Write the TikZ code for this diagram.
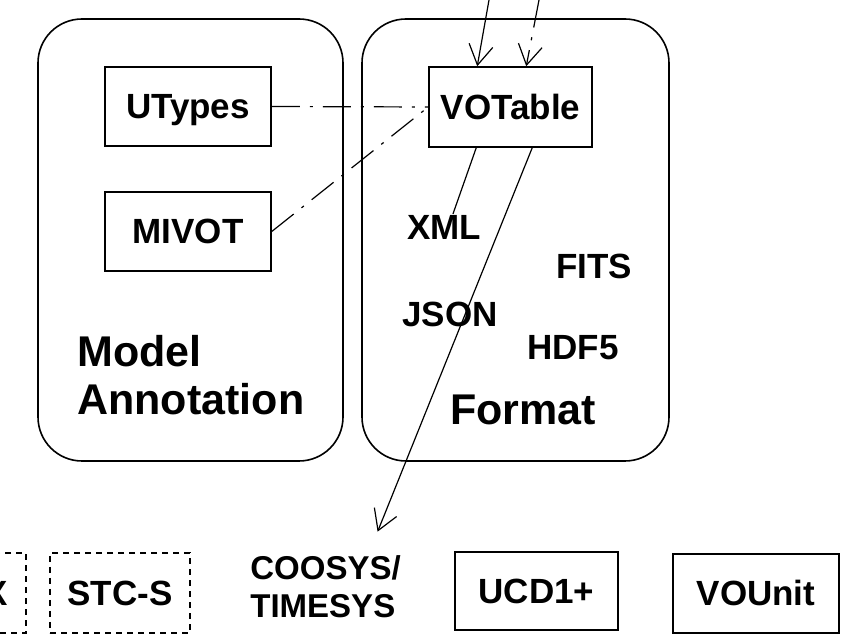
\documentclass[tikz,border=0pt]{standalone}
\usepackage{fontspec}
\setmainfont{Liberation Sans}
\usetikzlibrary{arrows.meta}
\begin{document}
\begin{tikzpicture}[x=0.5pt,y=-0.5pt,
  font=\bfseries\fontsize{17.5}{20}\selectfont,
  box/.style={draw,line width=0.75pt,minimum width=83pt,minimum height=39.5pt,inner sep=0pt,text height=12.5pt,text depth=0pt},
  dbox/.style={box,dash pattern=on 3pt off 2.5pt},
  dashdot/.style={line width=0.6pt,dash pattern=on 14pt off 5pt on 1.5pt off 5pt},
  barb/.style={-{Straight Barb[length=10pt,width=12pt]},line width=0.6pt},
  panel/.style={line width=0.8pt,rounded corners=22pt}]
  \useasboundingbox (0,0) rectangle (847,635);
  \draw[panel] (38,19) rectangle (343,461);
  \draw[panel] (362,19) rectangle (669,461);
  \node[box] (UTypes) at (188,106.5) {UTypes};
  \node[box] (MIVOT) at (188,231.5) {MIVOT};
  \node[box,minimum width=81.5pt,minimum height=40pt] (VOTable) at (510.5,107) {VOTable};
  \node[anchor=base] (XML) at (444,240) {XML};
  \node[anchor=base] (FITS) at (594,279) {FITS};
  \node[anchor=base] (JSON) at (450,327) {JSON};
  \node[anchor=base] (HDF5) at (573,360) {HDF5};
  \node[anchor=base west,align=left,inner sep=0pt,font=\bfseries\fontsize{21.5}{24}\selectfont] (annot) at (77,415) {Model\\Annotation};
  \node[anchor=base,font=\bfseries\fontsize{21.5}{24}\selectfont] (format) at (523,425) {Format};
  \node[dbox,minimum width=29.5pt,minimum height=40pt] (X) at (-3.5,593) {X};
  \node[dbox,minimum width=70pt,minimum height=40pt] (STCS) at (120,593) {STC-S};
  \node[anchor=base west,align=left,inner sep=0pt,font=\bfseries\fontsize{16.5}{19}\selectfont] (COOSYS) at (250,618) {COOSYS/\\TIMESYS};
  \node[box,minimum width=81.5pt,minimum height=39pt] (UCD) at (536.5,591) {UCD1+};
  \node[box] (VOUnit) at (756,593.5) {VOUnit};
  \coordinate (in1) at (489,0);
  \coordinate (in2) at (539,0);
  \draw[barb] (in1) -- ([xshift=24.5pt]VOTable.north west);
  \draw[barb,dashdot] (in2) -- ([xshift=49pt]VOTable.north west);
  \draw[dashdot] (UTypes.east) -- (VOTable.west);
  \draw[dashdot] (MIVOT.east) -- (VOTable.west);
  \draw[line width=0.6pt] ([xshift=24pt]VOTable.south west) -- ([xshift=4.5pt,yshift=-2.5pt]XML.north);
  \draw[barb] ([xshift=52pt]VOTable.south west) -- ([xshift=26pt,yshift=12pt]COOSYS.north);
\end{tikzpicture}
\end{document}
